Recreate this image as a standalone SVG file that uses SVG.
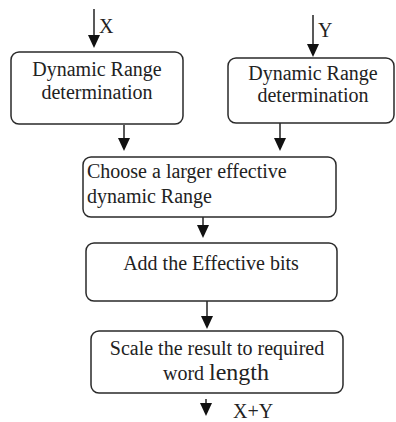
<svg xmlns="http://www.w3.org/2000/svg" width="396" height="422" viewBox="0 0 396 422">
<style>
.box{fill:#fff;stroke:#2a2a2a;stroke-width:1.5}
.t{font-family:"Liberation Serif","Times New Roman",serif;font-size:20px;fill:#222}
.c{text-anchor:middle}
.ln{stroke:#222;stroke-width:1.5;fill:none}
.ah{fill:#111}
</style>
<rect width="396" height="422" fill="#fff"/>
<g id="connectors">
<line class="ln" x1="94" y1="9" x2="94" y2="37"/><polygon class="ah" points="88,35 100,35 94,48"/>
<text class="t" x="99" y="33" font-size="19">X</text>
<line class="ln" x1="313" y1="15" x2="313" y2="46"/><polygon class="ah" points="307,44 319,44 313,57"/>
<text class="t" x="318" y="37" font-size="19">Y</text>
<line class="ln" x1="124" y1="125" x2="124" y2="140"/><polygon class="ah" points="118,138 130,138 124,151"/>
<line class="ln" x1="280" y1="123" x2="280" y2="140"/><polygon class="ah" points="274,138 286,138 280,151"/>
<line class="ln" x1="203" y1="217" x2="203" y2="227"/><polygon class="ah" points="197,225 209,225 203,238"/>
<line class="ln" x1="207" y1="301" x2="207" y2="318"/><polygon class="ah" points="201,316 213,316 207,329"/>
<line class="ln" x1="206" y1="399" x2="206" y2="405"/><polygon class="ah" points="200,403 212,403 206,416"/>
<text class="t" x="233" y="418">X+Y</text>
</g>
<g id="n1">
<rect class="box" x="11" y="52" width="172" height="72" rx="8"/>
<text class="t c" x="97" y="76">Dynamic Range</text>
<text class="t c" x="97" y="99">determination</text>
</g>
<g id="n2">
<rect class="box" x="228" y="58" width="166" height="65" rx="8"/>
<text class="t c" x="313" y="80">Dynamic Range</text>
<text class="t c" x="313" y="102">determination</text>
</g>
<g id="n3">
<rect class="box" x="83" y="157" width="253" height="60" rx="8"/>
<text class="t" x="87" y="178">Choose a larger effective</text>
<text class="t" x="87" y="203">dynamic Range</text>
</g>
<g id="n4">
<rect class="box" x="86" y="243" width="251" height="58" rx="8"/>
<text class="t c" x="211" y="270">Add the Effective bits</text>
</g>
<g id="n5">
<rect class="box" x="91" y="331" width="252" height="62" rx="8"/>
<text class="t c" x="217" y="355">Scale the result to required</text>
<text class="t c" x="216" y="380">word <tspan font-size="24">length</tspan></text>
</g>
</svg>
